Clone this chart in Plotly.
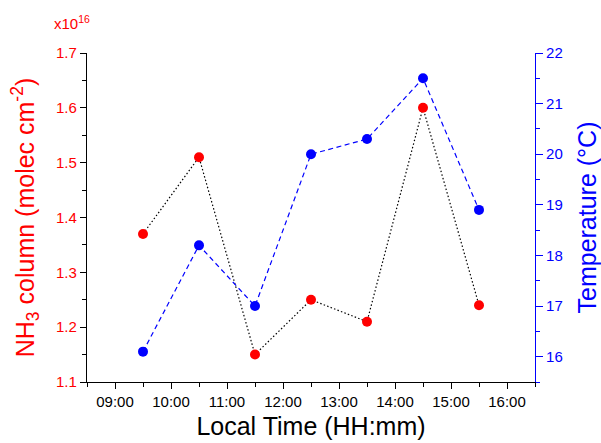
import plotly.graph_objects as go

# Observation times (local) and measured quantities
times = ["09:30", "10:30", "11:30", "12:30", "13:30", "14:30", "15:30"]
nh3_column = [1.37, 1.51, 1.15, 1.25, 1.21, 1.60, 1.24]   # x1e16 molec cm^-2
temperature = [16.1, 18.2, 17.0, 20.0, 20.3, 21.5, 18.9]  # degC

day = "2020-01-01 "
x_vals = [day + t for t in times]

FONT = "Liberation Sans, Arial, sans-serif"
RED = "#ff0000"
BLUE = "#0000ff"

fig = go.Figure()

fig.add_trace(go.Scatter(
    x=x_vals, y=nh3_column, mode="lines+markers",
    line=dict(color="black", width=1.2, dash="1.5px,2.2px"),
    marker=dict(color=RED, size=10),
    name="NH3", yaxis="y", xaxis="x",
))
fig.add_trace(go.Scatter(
    x=x_vals, y=temperature, mode="lines+markers",
    line=dict(color=BLUE, width=1.2, dash="5px,3.5px"),
    marker=dict(color=BLUE, size=10),
    name="Temperature", yaxis="y2", xaxis="x",
))

x_range = [day + "08:30", day + "16:30"]
hour_ms = 3600 * 1000

fig.update_layout(
    width=601, height=443,
    margin=dict(l=87, r=66, t=53, b=61),
    paper_bgcolor="white", plot_bgcolor="white",
    showlegend=False,
    font=dict(family=FONT, size=15, color="black"),
    xaxis=dict(
        type="date", range=x_range, tickformat="%H:%M",
        dtick=hour_ms, tick0=day + "09:00",
        ticks="outside", ticklen=6, tickwidth=1, tickcolor="black",
        minor=dict(dtick=hour_ms / 2, tick0=day + "08:30", ticks="outside",
                   ticklen=4, tickcolor="black"),
        showline=True, linecolor="black", linewidth=1.2,
        showgrid=False, zeroline=False, automargin=False,
        tickfont=dict(size=15, color="black"),
        title=dict(text="Local Time (HH:mm)", font=dict(size=25, color="black"),
                   standoff=8),
    ),
    xaxis2=dict(
        type="date", range=x_range, overlaying="x", side="top",
        dtick=hour_ms, tick0=day + "09:00",
        ticks="inside", ticklen=6, tickcolor="black",
        minor=dict(dtick=hour_ms / 2, tick0=day + "08:30", ticks="inside",
                   ticklen=4, tickcolor="black"),
        showticklabels=False, showline=True, linecolor="black", linewidth=1.2,
        showgrid=False, zeroline=False, automargin=False,
    ),
    yaxis=dict(
        range=[1.1, 1.7], dtick=0.1, tick0=1.1, tickformat=".1f",
        ticks="outside", ticklen=6, tickcolor="black",
        minor=dict(dtick=0.05, ticks="outside", ticklen=4, tickcolor="black"),
        showline=True, linecolor="black", linewidth=1.2,
        showgrid=False, zeroline=False, automargin=False,
        tickfont=dict(size=15, color=RED),
        title=dict(text="NH<sub>3</sub> column (molec cm<sup>-2</sup>)",
                   font=dict(size=25, color=RED), standoff=14),
    ),
    yaxis2=dict(
        range=[15.5, 22], dtick=1, tick0=16, overlaying="y", side="right",
        ticks="outside", ticklen=7, tickcolor=BLUE,
        minor=dict(dtick=0.5, ticks="outside", ticklen=4, tickcolor=BLUE),
        showline=True, linecolor=BLUE, linewidth=1.2,
        showgrid=False, zeroline=False, automargin=False,
        tickfont=dict(size=15, color=BLUE),
        title=dict(text="Temperature (\u00b0C)", font=dict(size=25, color=BLUE),
                   standoff=16),
    ),
    annotations=[dict(
        text="x10<sup>16</sup>", xref="paper", yref="paper",
        x=-35 / 448, y=1 + 30 / 329, xanchor="left", yanchor="middle",
        showarrow=False, font=dict(size=15, color=RED, family=FONT),
    )],
)

fig.write_html("out.html")
